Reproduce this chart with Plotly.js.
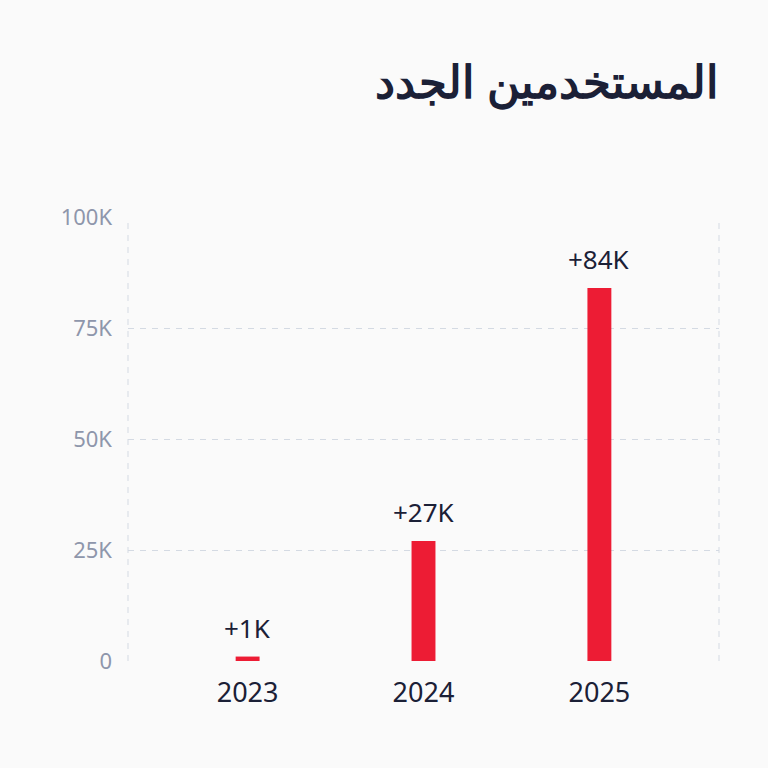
<!DOCTYPE html>
<html>
<head>
<meta charset="utf-8">
<script src="https://cdn.plot.ly/plotly-3.0.1.min.js"></script>
<style>
  html, body { margin: 0; padding: 0; background: #fafafa; }
  #chart { width: 768px; height: 768px; }
</style>
</head>
<body>
<div id="chart"></div>
<script>
// New users per year
const years = ["2023", "2024", "2025"];
const newUsers = [1000, 27000, 84000];
const yTickVals = [0, 25000, 50000, 75000, 100000];
const yTickText = ["0", "25K", "50K", "75K", "100K"];
const chartTitle = "المستخدمين الجدد";

const barColor = "#ed1c34";
const inkColor = "#1b2036";
const mutedColor = "#8e96ab";
const gridColor = "#d4dae3";
const gridDash = "6px,6px";
const font = "Noto Sans";

const fmt = v => "+" + Math.round(v / 1000) + "K";

const trace = {
  type: "bar",
  x: years,
  y: newUsers,
  width: 0.136,
  marker: { color: barColor },
  hoverinfo: "skip"
};

// value labels sit just above each bar
const labels = years.map((yr, i) => ({
  x: i,
  y: newUsers[i],
  xref: "x",
  yref: "y",
  text: fmt(newUsers[i]),
  showarrow: false,
  xanchor: "center",
  yanchor: "bottom",
  yshift: 9,
  font: { family: font, size: 26, color: inkColor }
}));

const layout = {
  width: 768,
  height: 768,
  paper_bgcolor: "#fafafa",
  plot_bgcolor: "#fafafa",
  margin: { l: 128, r: 49, t: 217, b: 107 },
  showlegend: false,
  title: {
    text: "<b>" + chartTitle + "</b>",
    font: { family: font, size: 45, color: inkColor },
    xref: "paper",
    x: 1,
    xanchor: "right",
    yref: "container",
    y: 1 - 82 / 768,
    yanchor: "middle"
  },
  xaxis: {
    type: "category",
    range: [-0.68, 2.68],
    showgrid: false,
    zeroline: false,
    showline: false,
    ticks: "",
    ticklabelstandoff: 13,
    tickfont: { family: font, size: 27, color: inkColor },
    fixedrange: true
  },
  yaxis: {
    range: [0, 100000],
    tickvals: yTickVals,
    ticktext: yTickText,
    showgrid: true,
    gridcolor: gridColor,
    griddash: gridDash,
    gridwidth: 1,
    zeroline: false,
    showline: false,
    ticks: "",
    ticklabelstandoff: 15,
    tickfont: { family: font, size: 22, color: mutedColor },
    fixedrange: true
  },
  shapes: [
    { type: "line", xref: "paper", yref: "paper", x0: 0, x1: 0, y0: 0, y1: 1,
      line: { color: gridColor, width: 1, dash: gridDash }, layer: "below" },
    { type: "line", xref: "paper", yref: "paper", x0: 1, x1: 1, y0: 0, y1: 1,
      line: { color: gridColor, width: 1, dash: gridDash }, layer: "below" }
  ],
  annotations: labels
};

Plotly.newPlot("chart", [trace], layout, { displayModeBar: false });
</script>
</body>
</html>
